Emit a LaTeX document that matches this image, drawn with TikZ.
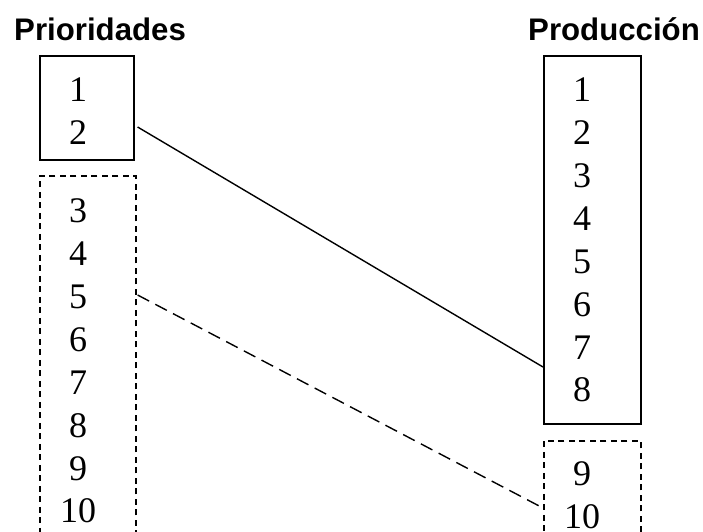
\documentclass[tikz,border=0pt]{standalone}
\usepackage{fontspec}
\setmainfont{Liberation Serif}
\newfontfamily\headfont{Liberation Sans}
\usetikzlibrary{calc}

\tikzset{
  heading/.style={font=\headfont\bfseries\fontsize{31.2}{36}\selectfont, anchor=base west, inner sep=0pt},
  num/.style={font=\fontsize{36}{43}\selectfont, anchor=base, inner sep=0pt},
  fixedbox/.style={draw, line width=1.6pt, anchor=north west, inner sep=0pt},
  openbox/.style={draw, line width=1.6pt, dash pattern=on 6pt off 4.5pt, anchor=north west, inner sep=0pt},
  link/.style={line width=1.4pt},
  dashlink/.style={line width=1.4pt, dash pattern=on 13pt off 7pt}
}

\begin{document}
\begin{tikzpicture}[x=1pt, y=-1pt]
  \useasboundingbox (0,0) rectangle (703,531);

  % column headings
  \node[heading] (hprio) at (14,40) {Prioridades};
  \node[heading] (hprod) at (528,40) {Producción};

  % boxes: fixed (solid) and open (dashed) parts of each list
  \node[fixedbox, minimum width=94pt, minimum height=104pt] (lfix) at (39,55) {};
  \node[openbox, minimum width=96pt, minimum height=380pt] (lopen) at (39,175) {};
  \node[fixedbox, minimum width=97pt, minimum height=368pt] (rfix) at (543,55) {};
  \node[openbox, minimum width=97pt, minimum height=110pt] (ropen) at (543,440) {};

  % priority numbers
  \foreach \n/\y in {1/101, 2/144, 3/222, 4/265, 5/308, 6/351, 7/394, 8/437, 9/480, 10/522}
    \node[num] (l\n) at (78,\y) {\n};

  % production numbers
  \foreach \n/\y in {1/101, 2/144, 3/187, 4/230, 5/273, 6/316, 7/359, 8/401, 9/485, 10/528}
    \node[num] (r\n) at (582,\y) {\n};

  % connectors between the lists
  \draw[link] ($(lfix.north east)+(3,72)$) -- ($(rfix.north west)+(0,312)$);
  \draw[dashlink] ($(lopen.north east)+(1,120)$) -- ($(ropen.north west)+(0,68)$);
\end{tikzpicture}
\end{document}
